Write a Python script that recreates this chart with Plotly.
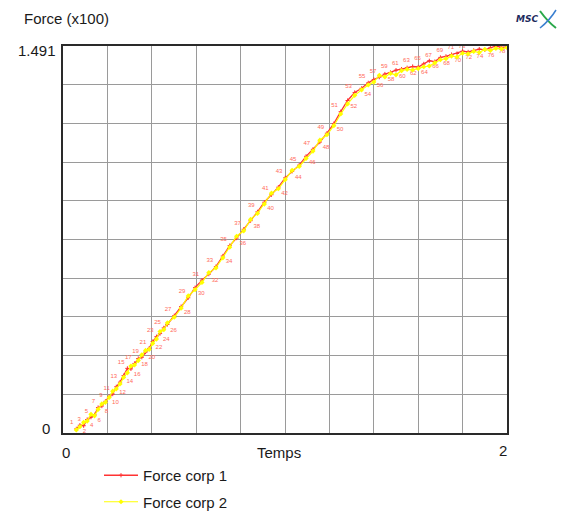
import plotly.graph_objects as go

# Time stamps of the recorded samples (s)
temps = [
    0.060, 0.076, 0.093, 0.109, 0.126, 0.142, 0.158, 0.175, 0.191, 0.208,
    0.224, 0.240, 0.257, 0.273, 0.290, 0.306, 0.322, 0.339, 0.355, 0.372,
    0.388, 0.404, 0.421, 0.437, 0.454, 0.470, 0.501, 0.532, 0.564, 0.595,
    0.626, 0.657, 0.689, 0.720, 0.751, 0.782, 0.814, 0.845, 0.876, 0.907,
    0.939, 0.970, 1.001, 1.032, 1.064, 1.095, 1.126, 1.157, 1.189, 1.220,
    1.251, 1.282, 1.314, 1.345, 1.375, 1.400, 1.425, 1.450, 1.475, 1.500,
    1.525, 1.550, 1.575, 1.600, 1.625, 1.650, 1.675, 1.700, 1.725, 1.750,
    1.775, 1.800, 1.825, 1.850, 1.875, 1.900, 1.925, 1.950, 1.975, 2.000,
]

# Contact force on body 1 (x100)
force_corp1 = [
    0.016, 0.030, 0.028, 0.052, 0.061, 0.070, 0.098, 0.104, 0.122, 0.141,
    0.150, 0.178, 0.196, 0.221, 0.249, 0.247, 0.268, 0.287, 0.292, 0.312,
    0.326, 0.352, 0.371, 0.383, 0.405, 0.418, 0.452, 0.487, 0.521, 0.560,
    0.589, 0.612, 0.641, 0.682, 0.722, 0.751, 0.785, 0.818, 0.852, 0.889,
    0.918, 0.947, 0.983, 1.008, 1.032, 1.066, 1.093, 1.121, 1.155, 1.192,
    1.238, 1.281, 1.312, 1.328, 1.349, 1.362, 1.371, 1.383, 1.389, 1.398,
    1.402, 1.407, 1.412, 1.410, 1.422, 1.434, 1.431, 1.447, 1.451, 1.458,
    1.462, 1.471, 1.468, 1.474, 1.479, 1.476, 1.484, 1.491, 1.486, 1.488,
]

# Contact force on body 2 (x100)
force_corp2 = [
    0.012, 0.024, 0.041, 0.046, 0.072, 0.066, 0.091, 0.112, 0.118, 0.137,
    0.161, 0.170, 0.189, 0.214, 0.232, 0.258, 0.262, 0.279, 0.301, 0.318,
    0.322, 0.345, 0.362, 0.391, 0.398, 0.424, 0.446, 0.481, 0.528, 0.552,
    0.580, 0.618, 0.636, 0.675, 0.716, 0.758, 0.779, 0.823, 0.846, 0.882,
    0.924, 0.941, 0.976, 1.012, 1.027, 1.058, 1.086, 1.128, 1.149, 1.184,
    1.229, 1.268, 1.301, 1.322, 1.341, 1.352, 1.378, 1.372, 1.385, 1.380,
    1.396, 1.401, 1.399, 1.404, 1.411, 1.414, 1.426, 1.438, 1.442, 1.452,
    1.449, 1.463, 1.461, 1.470, 1.466, 1.478, 1.474, 1.482, 1.480, 1.485,
]

# Sample numbers printed next to the body-1 points
numeros = [str(i + 1) for i in range(len(temps))]
# alternate sides so neighbouring numbers do not sit on each other
positions = ["top left" if i % 2 == 0 else "bottom right" for i in range(len(temps))]

x_range = [0, 2]
y_range = [0, 1.491]
x_tick_labels = ["0", "2"]
y_tick_labels = ["0", "1.491"]

FONT = "Liberation Sans, Arial, sans-serif"
ROUGE = "#ff3333"
JAUNE = "#ffff00"

# plot area in pixels
L, R, T, B = 63, 55, 46, 80
W, H = 562, 513
PW, PH = W - L - R, H - T - B


def px(x):
    return (x - L) / PW


def py(y):
    return (H - B - y) / PH


fig = go.Figure()

fig.add_trace(go.Scatter(
    x=temps, y=force_corp1, name="Force corp 1",
    mode="lines+markers+text",
    text=numeros, textposition=positions,
    textfont=dict(size=6, color="#ff6a5a", family=FONT),
    line=dict(color=ROUGE, width=1.3),
    marker=dict(color=ROUGE, size=3, symbol="cross-thin",
                line=dict(color=ROUGE, width=1)),
    legendgroup="c1",
))

fig.add_trace(go.Scatter(
    x=temps, y=force_corp2, name="Force corp 2",
    mode="lines+markers",
    line=dict(color=JAUNE, width=1.2),
    marker=dict(color=JAUNE, size=4, symbol="diamond"),
    legendgroup="c2",
))

axis_common = dict(
    showgrid=True, gridcolor="#9a9a9a", gridwidth=1.3,
    showline=True, linecolor="#2a2a2a", linewidth=2, mirror=True,
    showticklabels=False, ticks="", zeroline=False, fixedrange=True,
)

fig.update_layout(
    width=W, height=H,
    margin=dict(l=L, r=R, t=T, b=B, autoexpand=False),
    paper_bgcolor="white", plot_bgcolor="white",
    font=dict(family=FONT, size=15, color="#1a1a1a"),
    xaxis=dict(range=x_range, tick0=0, dtick=0.2, **axis_common),
    yaxis=dict(range=y_range, tick0=0, dtick=0.1491, **axis_common),
    showlegend=True,
    legend=dict(
        x=px(99), y=py(459), xanchor="left", yanchor="top",
        orientation="v", tracegroupgap=4, itemwidth=34,
        bgcolor="rgba(0,0,0,0)", borderwidth=0,
        font=dict(size=15, family=FONT, color="#1a1a1a"),
    ),
)

ann = []
# Axis titles
ann.append(dict(text="Force (x100)", xref="paper", yref="paper",
                x=px(22), y=py(18), xanchor="left", yanchor="middle",
                showarrow=False, font=dict(size=15)))
ann.append(dict(text="Temps", xref="paper", yref="paper",
                x=px(279), y=py(452), xanchor="center", yanchor="middle",
                showarrow=False, font=dict(size=15)))
# End-point tick labels
ann.append(dict(text=y_tick_labels[1], xref="paper", yref="y",
                x=px(58), y=y_range[1], yshift=-4,
                xanchor="right", yanchor="middle", showarrow=False))
ann.append(dict(text=y_tick_labels[0], xref="paper", yref="y",
                x=px(52), y=y_range[0], yshift=5,
                xanchor="right", yanchor="middle", showarrow=False))
ann.append(dict(text=x_tick_labels[0], xref="x", yref="paper",
                x=x_range[0], xshift=3, y=py(452),
                xanchor="center", yanchor="middle", showarrow=False))
ann.append(dict(text=x_tick_labels[1], xref="x", yref="paper",
                x=x_range[1], xshift=-4, y=py(450),
                xanchor="center", yanchor="middle", showarrow=False))
# Vendor mark
ann.append(dict(text="<b><i>MSC</i></b>", xref="paper", yref="paper",
                x=px(540), y=py(19), xanchor="right", yanchor="middle",
                showarrow=False,
                font=dict(size=9, color="#1c2a5c", family="DejaVu Sans")))
fig.update_layout(annotations=ann)

# Swoosh of the vendor mark
fig.add_shape(type="path", xref="paper", yref="paper",
              path=f"M {px(540)} {py(11)} Q {px(548)} {py(22)} {px(556)} {py(28)}",
              line=dict(color="#2aa84a", width=2))
fig.add_shape(type="path", xref="paper", yref="paper",
              path=f"M {px(540)} {py(28)} Q {px(550)} {py(20)} {px(556)} {py(10)}",
              line=dict(color="#3a7fd0", width=1.5))

fig.write_html("out.html")
